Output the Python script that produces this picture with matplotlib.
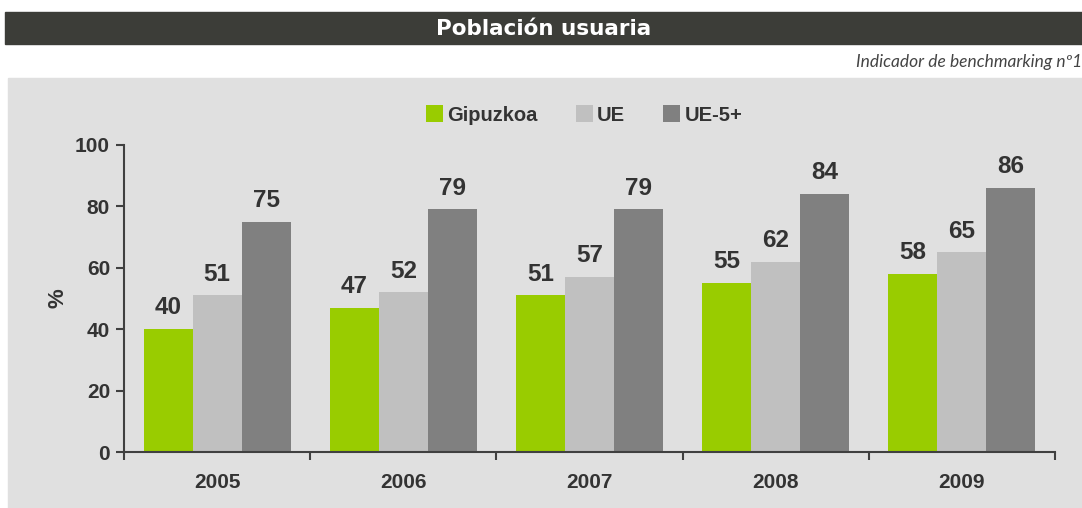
import numpy as np
import matplotlib.pyplot as plt
from matplotlib.patches import Rectangle

years = ["2005", "2006", "2007", "2008", "2009"]
gipuzkoa = [40, 47, 51, 55, 58]
ue = [51, 52, 57, 62, 65]
ue5 = [75, 79, 79, 84, 86]

series_names = ["Gipuzkoa", "UE", "UE-5+"]
colors = ["#99cc00", "#c0c0c0", "#808080"]
text_col = "#333333"

plt.rcParams["font.family"] = ["Liberation Sans", "DejaVu Sans"]

fig = plt.figure(figsize=(10.82, 5.08), dpi=100)
fig.patch.set_facecolor("white")

# header band and grey panel
fig.patches.append(Rectangle((5 / 1082, 1 - 44 / 508), 1, 32 / 508,
                             transform=fig.transFigure, color="#3c3d38", zorder=-10))
fig.patches.append(Rectangle((8 / 1082, 0), 1, 1 - 78 / 508,
                             transform=fig.transFigure, color="#e0e0e0", zorder=-10))
fig.text(544 / 1082, 1 - 29 / 508, "Población usuaria", color="white",
         fontsize=15.5, fontweight="bold", family=["DejaVu Sans"],
         ha="center", va="center")
fig.text(1082 / 1082, 1 - 62 / 508, "Indicador de benchmarking nº1", color="#444444",
         fontsize=12.5, style="italic", family=["Lato", "DejaVu Sans"],
         ha="right", va="center")

ax = fig.add_axes([124 / 1082, 1 - 452 / 508, (1055 - 124) / 1082, (452 - 145) / 508])
ax.set_facecolor("none")
ax.set_zorder(5)

x = np.arange(len(years))
w = 0.263
for i, vals in enumerate([gipuzkoa, ue, ue5]):
    pos = x + (i - 1) * w
    bars = ax.bar(pos, vals, w, color=colors[i], label=series_names[i], zorder=2)
    for b, v in zip(bars, vals):
        ax.annotate(str(v), (b.get_x() + b.get_width() / 2, v), xytext=(0, 7),
                    textcoords="offset points", ha="center", va="bottom",
                    fontsize=17.5, fontweight="bold", color=text_col)

ax.set_xlim(-0.5, len(years) - 0.5)
ax.set_ylim(0, 100)
ax.set_yticks([0, 20, 40, 60, 80, 100])
ax.set_xticks(x)
ax.set_xticklabels(years)
ax.set_xticks(np.arange(-0.5, len(years)), minor=True)
ax.tick_params(axis="x", which="major", length=0, pad=15, labelsize=15,
               labelcolor=text_col)
ax.tick_params(axis="x", which="minor", length=6, width=1.5, color="#404040",
               direction="out")
ax.tick_params(axis="y", length=6, width=1.5, color="#404040", labelsize=15,
               labelcolor=text_col, pad=4)
for lab in ax.get_xticklabels() + ax.get_yticklabels():
    lab.set_fontweight("bold")

for s in ["top", "right"]:
    ax.spines[s].set_visible(False)
for s in ["left", "bottom"]:
    ax.spines[s].set_color("#404040")
    ax.spines[s].set_linewidth(1.5)

ax.set_ylabel("%", fontsize=16, fontweight="bold", color=text_col, labelpad=5)

leg = fig.legend(loc="center", bbox_to_anchor=(584 / 1082, 1 - 115 / 508), ncol=3,
                 frameon=False, handlelength=0.85, handleheight=0.85,
                 handletextpad=0.2, columnspacing=1.9,
                 prop={"weight": "bold", "size": 14.5})
leg.set_zorder(6)
for t in leg.get_texts():
    t.set_color(text_col)

fig.savefig("out.png", dpi=100)
